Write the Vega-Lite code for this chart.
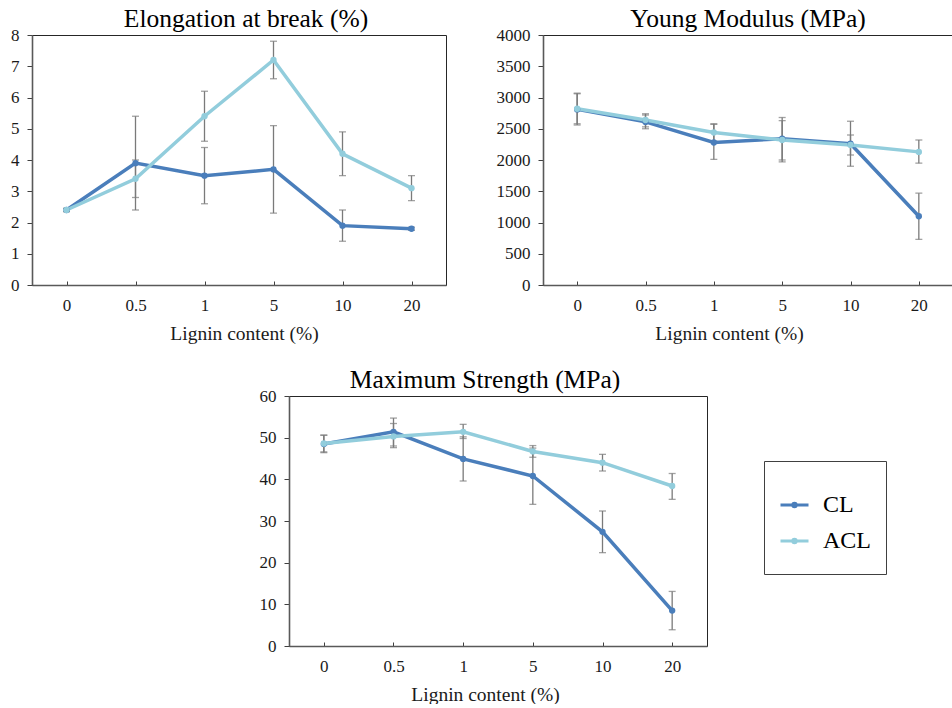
{
  "$schema": "https://vega.github.io/schema/vega-lite/v6.json",
  "padding": {"left": 10, "top": 6, "right": 0, "bottom": 0},
  "background": "white",
  "config": {
    "font": "Liberation Serif",
    "view": {"stroke": "#262626", "strokeWidth": 1},
    "title": {"font": "Liberation Serif", "fontSize": 25.5, "fontWeight": "normal", "color": "#000000", "anchor": "middle", "frame": "group", "offset": -6},
    "axis": {"grid": false, "domainColor": "#595959", "domainWidth": 1.6, "tickColor": "#404040", "tickWidth": 1, "labelFont": "Liberation Serif", "labelFontSize": 17, "labelColor": "#1a1a1a", "titleFont": "Liberation Serif", "titleFontSize": 19.5, "titleFontWeight": "normal", "titleColor": "#1a1a1a", "labelOverlap": false},
    "axisX": {"tickSize": -4, "labelPadding": 16, "labelAngle": 0, "titlePadding": 11},
    "axisY": {"tickSize": 5, "labelPadding": 8}
  },
  "resolve": {"scale": {"color": "independent"}, "legend": {"color": "independent"}},
  "spacing": 24,
  "datasets": {
    "elong": [
      {"lignin": "0", "series": "CL", "mean": 2.4, "lo": 2.35, "hi": 2.45},
      {"lignin": "0.5", "series": "CL", "mean": 3.9, "lo": 2.4, "hi": 5.4},
      {"lignin": "1", "series": "CL", "mean": 3.5, "lo": 2.6, "hi": 4.4},
      {"lignin": "5", "series": "CL", "mean": 3.7, "lo": 2.3, "hi": 5.1},
      {"lignin": "10", "series": "CL", "mean": 1.9, "lo": 1.4, "hi": 2.4},
      {"lignin": "20", "series": "CL", "mean": 1.8, "lo": 1.75, "hi": 1.85},
      {"lignin": "0", "series": "ACL", "mean": 2.4, "lo": 2.35, "hi": 2.45},
      {"lignin": "0.5", "series": "ACL", "mean": 3.4, "lo": 2.8, "hi": 4.0},
      {"lignin": "1", "series": "ACL", "mean": 5.4, "lo": 4.6, "hi": 6.2},
      {"lignin": "5", "series": "ACL", "mean": 7.2, "lo": 6.6, "hi": 7.8},
      {"lignin": "10", "series": "ACL", "mean": 4.2, "lo": 3.5, "hi": 4.9},
      {"lignin": "20", "series": "ACL", "mean": 3.1, "lo": 2.7, "hi": 3.5}
    ],
    "young": [
      {"lignin": "0", "series": "CL", "mean": 2810, "lo": 2560, "hi": 3070},
      {"lignin": "0.5", "series": "CL", "mean": 2610, "lo": 2500, "hi": 2720},
      {"lignin": "1", "series": "CL", "mean": 2280, "lo": 2010, "hi": 2570},
      {"lignin": "5", "series": "CL", "mean": 2340, "lo": 1970, "hi": 2680},
      {"lignin": "10", "series": "CL", "mean": 2260, "lo": 1900, "hi": 2620},
      {"lignin": "20", "series": "CL", "mean": 1100, "lo": 730, "hi": 1470},
      {"lignin": "0", "series": "ACL", "mean": 2820, "lo": 2580, "hi": 3060},
      {"lignin": "0.5", "series": "ACL", "mean": 2640, "lo": 2530, "hi": 2740},
      {"lignin": "1", "series": "ACL", "mean": 2440, "lo": 2300, "hi": 2580},
      {"lignin": "5", "series": "ACL", "mean": 2320, "lo": 2000, "hi": 2630},
      {"lignin": "10", "series": "ACL", "mean": 2240, "lo": 2080, "hi": 2400},
      {"lignin": "20", "series": "ACL", "mean": 2130, "lo": 1950, "hi": 2320}
    ],
    "strength": [
      {"lignin": "0", "series": "CL", "mean": 48.5, "lo": 46.4, "hi": 50.6},
      {"lignin": "0.5", "series": "CL", "mean": 51.4, "lo": 47.6, "hi": 54.7},
      {"lignin": "1", "series": "CL", "mean": 44.9, "lo": 39.6, "hi": 50.2},
      {"lignin": "5", "series": "CL", "mean": 40.8, "lo": 34.0, "hi": 47.5},
      {"lignin": "10", "series": "CL", "mean": 27.4, "lo": 22.4, "hi": 32.4},
      {"lignin": "20", "series": "CL", "mean": 8.5, "lo": 3.9, "hi": 13.1},
      {"lignin": "0", "series": "ACL", "mean": 48.6, "lo": 46.6, "hi": 50.6},
      {"lignin": "0.5", "series": "ACL", "mean": 50.3, "lo": 48.0, "hi": 53.4},
      {"lignin": "1", "series": "ACL", "mean": 51.4, "lo": 49.8, "hi": 53.2},
      {"lignin": "5", "series": "ACL", "mean": 46.7, "lo": 45.3, "hi": 48.1},
      {"lignin": "10", "series": "ACL", "mean": 44.0, "lo": 42.0, "hi": 46.0},
      {"lignin": "20", "series": "ACL", "mean": 38.4, "lo": 35.2, "hi": 41.4}
    ]
  },
  "vconcat": [
    {
      "resolve": {"scale": {"color": "independent"}, "legend": {"color": "independent"}},
      "spacing": 48,
      "hconcat": [
        {
          "width": 414, "height": 250,
          "title": {"text": "Elongation at break (%)", "dx": 7},
          "data": {"name": "elong"},
          "encoding": {
            "x": {"field": "lignin", "type": "ordinal", "sort": ["0", "0.5", "1", "5", "10", "20"], "scale": {"type": "point", "padding": 0.5}, "title": "Lignin content (%)", "axis": {"titleX": 212}},
            "y": {"field": "mean", "type": "quantitative", "title": null, "scale": {"domain": [0, 8], "nice": false}, "axis": {"values": [0, 1, 2, 3, 4, 5, 6, 7, 8]}}
          },
          "layer": [
            {"mark": {"type": "rule", "color": "#7a7a7a", "strokeWidth": 1.3},
             "encoding": {"y": {"field": "lo", "type": "quantitative", "title": null, "scale": {"domain": [0, 8], "nice": false}, "axis": {"values": [0, 1, 2, 3, 4, 5, 6, 7, 8]}}, "y2": {"field": "hi"}}},
            {"mark": {"type": "tick", "color": "#7a7a7a", "thickness": 1.3, "size": 7},
             "encoding": {"y": {"field": "lo", "type": "quantitative", "title": null, "axis": {"values": [0, 1, 2, 3, 4, 5, 6, 7, 8]}}}},
            {"mark": {"type": "tick", "color": "#7a7a7a", "thickness": 1.3, "size": 7},
             "encoding": {"y": {"field": "hi", "type": "quantitative", "title": null, "axis": {"values": [0, 1, 2, 3, 4, 5, 6, 7, 8]}}}},
            {"mark": {"type": "line", "strokeWidth": 3.5, "point": {"filled": true, "size": 40}},
             "encoding": {"color": {"field": "series", "type": "nominal", "scale": {"domain": ["CL", "ACL"], "range": ["#4a7ebb", "#92cddc"]}, "legend": null}}}
          ]
        },
        {
          "width": 410, "height": 250,
          "title": {"text": "Young Modulus (MPa)", "dx": 0},
          "data": {"name": "young"},
          "encoding": {
            "x": {"field": "lignin", "type": "ordinal", "sort": ["0", "0.5", "1", "5", "10", "20"], "scale": {"type": "point", "padding": 0.5}, "title": "Lignin content (%)", "axis": {"titleX": 186}},
            "y": {"field": "mean", "type": "quantitative", "title": null, "scale": {"domain": [0, 4000], "nice": false}, "axis": {"values": [0, 500, 1000, 1500, 2000, 2500, 3000, 3500, 4000], "format": "d"}}
          },
          "layer": [
            {"mark": {"type": "rule", "color": "#7a7a7a", "strokeWidth": 1.3},
             "encoding": {"y": {"field": "lo", "type": "quantitative", "title": null, "scale": {"domain": [0, 4000], "nice": false}, "axis": {"values": [0, 500, 1000, 1500, 2000, 2500, 3000, 3500, 4000], "format": "d"}}, "y2": {"field": "hi"}}},
            {"mark": {"type": "tick", "color": "#7a7a7a", "thickness": 1.3, "size": 7},
             "encoding": {"y": {"field": "lo", "type": "quantitative", "title": null, "axis": {"values": [0, 500, 1000, 1500, 2000, 2500, 3000, 3500, 4000], "format": "d"}}}},
            {"mark": {"type": "tick", "color": "#7a7a7a", "thickness": 1.3, "size": 7},
             "encoding": {"y": {"field": "hi", "type": "quantitative", "title": null, "axis": {"values": [0, 500, 1000, 1500, 2000, 2500, 3000, 3500, 4000], "format": "d"}}}},
            {"mark": {"type": "line", "strokeWidth": 3.5, "point": {"filled": true, "size": 40}},
             "encoding": {"color": {"field": "series", "type": "nominal", "scale": {"domain": ["CL", "ACL"], "range": ["#4a7ebb", "#92cddc"]}, "legend": null}}}
          ]
        }
      ]
    },
    {
      "resolve": {"scale": {"color": "independent"}, "legend": {"color": "independent"}},
      "spacing": 0,
      "hconcat": [
        {
          "width": 226, "height": 10,
          "view": {"stroke": null},
          "data": {"values": []},
          "mark": "point"
        },
        {
          "width": 418, "height": 250,
          "title": {"text": "Maximum Strength (MPa)", "dx": -13},
          "data": {"name": "strength"},
          "encoding": {
            "x": {"field": "lignin", "type": "ordinal", "sort": ["0", "0.5", "1", "5", "10", "20"], "scale": {"type": "point", "padding": 0.5}, "title": "Lignin content (%)", "axis": {"titleX": 196}},
            "y": {"field": "mean", "type": "quantitative", "title": null, "scale": {"domain": [0, 60], "nice": false}, "axis": {"values": [0, 10, 20, 30, 40, 50, 60]}}
          },
          "layer": [
            {"mark": {"type": "rule", "color": "#7a7a7a", "strokeWidth": 1.3},
             "encoding": {"y": {"field": "lo", "type": "quantitative", "title": null, "scale": {"domain": [0, 60], "nice": false}, "axis": {"values": [0, 10, 20, 30, 40, 50, 60]}}, "y2": {"field": "hi"}}},
            {"mark": {"type": "tick", "color": "#7a7a7a", "thickness": 1.3, "size": 7},
             "encoding": {"y": {"field": "lo", "type": "quantitative", "title": null, "axis": {"values": [0, 10, 20, 30, 40, 50, 60]}}}},
            {"mark": {"type": "tick", "color": "#7a7a7a", "thickness": 1.3, "size": 7},
             "encoding": {"y": {"field": "hi", "type": "quantitative", "title": null, "axis": {"values": [0, 10, 20, 30, 40, 50, 60]}}}},
            {"mark": {"type": "line", "strokeWidth": 3.5, "point": {"filled": true, "size": 40}},
             "encoding": {"color": {"field": "series", "type": "nominal", "scale": {"domain": ["CL", "ACL"], "range": ["#4a7ebb", "#92cddc"]},
                                    "legend": {"orient": "none", "legendX": 475, "legendY": 65, "title": " ", "titleFontSize": 4, "titlePadding": 7, "symbolType": "M-1,0H1M0.12,0A0.12,0.12 0 1,1 -0.12,0A0.12,0.12 0 1,1 0.12,0", "symbolSize": 784, "symbolStrokeWidth": 3, "labelFont": "Liberation Serif", "labelFontSize": 24, "labelColor": "#000000", "labelOffset": 13, "strokeColor": "#404040", "fillColor": "white", "padding": 15, "clipHeight": 36, "rowPadding": 0}}}}
          ]
        }
      ]
    }
  ]
}
